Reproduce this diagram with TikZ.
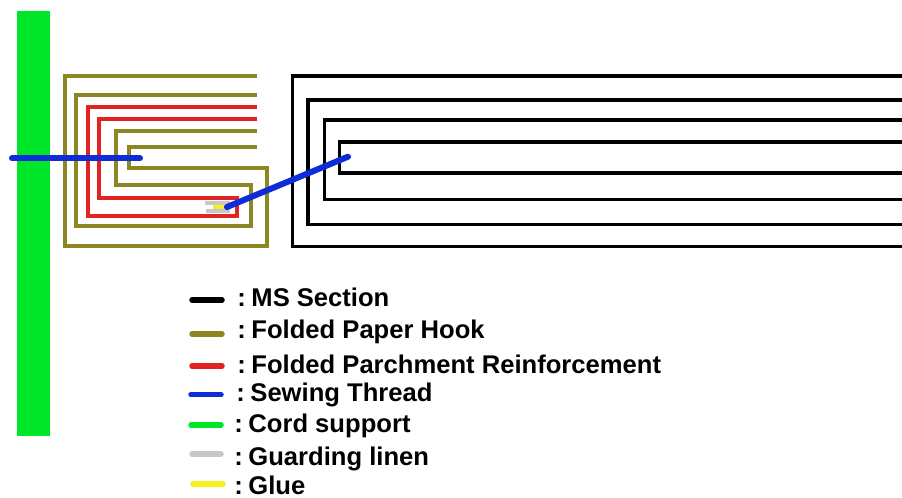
\documentclass[tikz,border=0pt]{standalone}
\usepackage{fontspec}
\setmainfont{Liberation Sans}
\definecolor{olivec}{RGB}{140,135,35}
\definecolor{redc}{RGB}{225,35,35}
\definecolor{bluec}{RGB}{15,45,215}
\definecolor{greenc}{RGB}{0,230,40}
\definecolor{greyc}{RGB}{200,200,200}
\definecolor{yellowc}{RGB}{245,240,30}
\tikzset{
  ms/.style={draw=black,line width=3.4pt*0.75,line join=miter},
  hook/.style={draw=olivec,line width=3.8pt*0.75},
  parch/.style={draw=redc,line width=4pt*0.75},
  thread/.style={draw=bluec,line width=6pt*0.75,line cap=round},
  swatch/.style={line width=5.5pt*0.75,line cap=round},
  lab/.style={anchor=base west,inner sep=0pt,font=\bfseries\fontsize{19.2pt}{19.2pt}\selectfont}
}
\newcommand{\lead}{:\hspace{0.22em}}
\begin{document}
\begin{tikzpicture}[x=0.75pt,y=-0.75pt]
\useasboundingbox (0,0) rectangle (902,497);
\fill[white] (0,0) rectangle (902,497);
% cord
\fill[greenc] (17,11) rectangle (50,436);
% MS section
\draw[ms] (902,76) -- (292.7,76) -- (292.7,246.5) -- (902,246.5);
\draw[ms] (902,100) -- (308,100) -- (308,224.5) -- (902,224.5);
\draw[ms] (902,120) -- (324.7,120) -- (324.7,199.5) -- (902,199.5);
\draw[ms] (902,142) -- (339.3,142) -- (339.3,173) -- (902,173);
% hook
\draw[hook] (257,76) -- (65,76) -- (65,245.7) -- (266.7,245.7) -- (266.7,167.7) -- (128.7,167.7) -- (128.7,146.7) -- (257,146.7);
\draw[hook] (257,95) -- (76,95) -- (76,225.7) -- (250.7,225.7) -- (250.7,185) -- (116,185) -- (116,130.7) -- (257,130.7);
% parchment
\draw[parch] (257,107) -- (88,107) -- (88,216) -- (237.3,216) -- (237.3,198) -- (98.7,198) -- (98.7,119) -- (257,119);
% linen and glue
\draw[greyc,line width=3pt] (205,203.3) -- (230,203.3);
\draw[greyc,line width=3pt] (206,211) -- (230,211);
\draw[yellowc,line width=3.2pt] (213,207) -- (226,207);
% thread
\draw[thread] (12,158.3) -- (140,158.3);
\draw[thread] (227,207) -- (348,156.7);
% legend
\draw[swatch,black] (192,300) -- (222,300);
\draw[swatch,olivec] (192,334) -- (222,334);
\draw[swatch,redc] (192,366) -- (222,366);
\draw[swatch,bluec] (191,394.7) -- (221,394.7);
\draw[swatch,greenc] (191,425) -- (221,425);
\draw[swatch,greyc] (192,454) -- (221,454);
\draw[swatch,yellowc] (193,484) -- (223,484);
\node[lab] (t1) at (237,306.7) {\lead MS Section};
\node[lab] (t2) at (237,338) {\lead Folded Paper Hook};
\node[lab] (t3) at (237,373) {\lead Folded Parchment Reinforcement};
\node[lab] (t4) at (236,401.7) {\lead Sewing Thread};
\node[lab] (t5) at (234,432.7) {\lead Cord support};
\node[lab] (t6) at (234,465) {\lead Guarding linen};
\node[lab] (t7) at (234,494.5) {\lead Glue};
\end{tikzpicture}
\end{document}
